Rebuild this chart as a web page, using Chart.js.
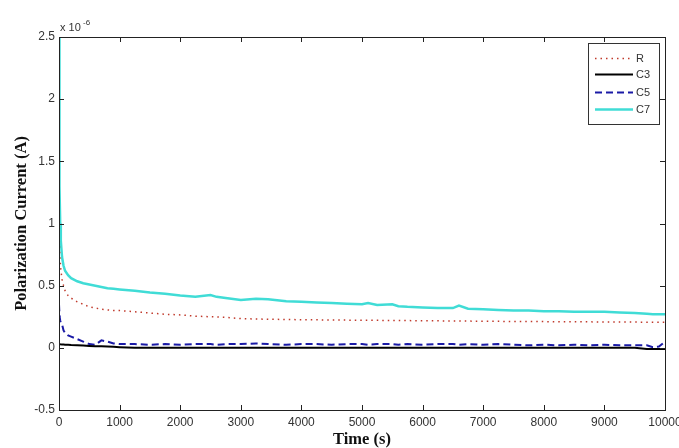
<!DOCTYPE html>
<html>
<head>
<meta charset="utf-8">
<script src="https://cdn.jsdelivr.net/npm/chart.js@4.4.1/dist/chart.umd.min.js"></script>
<style>
  body { margin: 0; background: #fff; }
</style>
</head>
<body>
<canvas id="polChart" width="679" height="448"></canvas>
<script>
// time (s)
const times = [0, 5, 10, 20, 30, 50, 75, 100, 150, 200, 300, 400, 500, 600, 700, 800, 900, 1000,
  1250, 1500, 1750, 2000, 2250, 2500, 2600, 2750, 3000, 3250, 3450, 3750, 4000, 4250, 4500, 4750,
  5000, 5100, 5250, 5500, 5600, 5750, 6000, 6250, 6500, 6600, 6750, 7000, 7250, 7500, 7750,
  8000, 8250, 8500, 8750, 9000, 9250, 9500, 9700, 9800, 9900, 10000];

// current, x 1e-6 A
const R = [0.95, 0.85, 0.78, 0.70, 0.63, 0.55, 0.50, 0.46, 0.42, 0.40, 0.37, 0.35, 0.33, 0.32, 0.31, 0.305, 0.30, 0.30,
  0.29, 0.28, 0.27, 0.265, 0.255, 0.25, 0.248, 0.245, 0.235, 0.232, 0.23, 0.228, 0.226, 0.225, 0.224, 0.223,
  0.222, 0.222, 0.221, 0.22, 0.22, 0.219, 0.218, 0.217, 0.216, 0.216, 0.215, 0.214, 0.213, 0.212, 0.212,
  0.211, 0.21, 0.21, 0.209, 0.208, 0.208, 0.207, 0.206, 0.206, 0.205, 0.205];

const C3 = [0.03, 0.03, 0.03, 0.028, 0.028, 0.027, 0.026, 0.025, 0.024, 0.022, 0.02, 0.018, 0.015, 0.013, 0.012, 0.01, 0.008, 0.005,
  0.0, 0.0, 0.0, 0.0, 0.0, 0.0, 0.0, 0.0, 0.0, 0.0, 0.0, 0.0, 0.0, 0.0, 0.0, 0.0,
  0.0, 0.0, 0.0, 0.0, 0.0, 0.0, 0.0, 0.0, 0.0, 0.0, 0.0, 0.0, 0.0, 0.0, 0.0,
  0.0, 0.0, 0.0, 0.0, 0.0, 0.0, 0.0, -0.01, -0.01, -0.01, -0.01];

const C5 = [0.35, 0.30, 0.25, 0.22, 0.20, 0.19, 0.14, 0.12, 0.10, 0.09, 0.07, 0.05, 0.03, 0.025, 0.06, 0.05, 0.035, 0.03,
  0.03, 0.025, 0.03, 0.025, 0.03, 0.03, 0.025, 0.03, 0.03, 0.035, 0.03, 0.025, 0.03, 0.03, 0.025, 0.03,
  0.03, 0.025, 0.03, 0.03, 0.025, 0.03, 0.025, 0.03, 0.03, 0.025, 0.03, 0.025, 0.03, 0.025, 0.02,
  0.025, 0.02, 0.025, 0.02, 0.025, 0.02, 0.02, 0.02, 0.005, 0.01, 0.05];

const C7 = [2.5, 1.7, 1.3, 1.0, 0.86, 0.73, 0.66, 0.62, 0.585, 0.56, 0.535, 0.52, 0.51, 0.50, 0.49, 0.48, 0.475, 0.47,
  0.46, 0.445, 0.435, 0.42, 0.41, 0.425, 0.41, 0.40, 0.385, 0.395, 0.39, 0.375, 0.37, 0.365, 0.36, 0.355,
  0.35, 0.36, 0.345, 0.35, 0.335, 0.33, 0.325, 0.32, 0.32, 0.34, 0.315, 0.31, 0.305, 0.30, 0.30,
  0.295, 0.295, 0.29, 0.29, 0.29, 0.285, 0.28, 0.275, 0.27, 0.27, 0.27];

const xTicks = [0, 1000, 2000, 3000, 4000, 5000, 6000, 7000, 8000, 9000, 10000];
const yTicks = [-0.5, 0, 0.5, 1, 1.5, 2, 2.5];

function pts(vals) {
  return times.map((t, i) => ({ x: t, y: vals[i] }));
}

// matlab style: box, inward ticks, exponent note, legend inside the axes
const matlabBox = {
  id: 'matlabBox',
  afterDraw(chart) {
    const ctx = chart.ctx;
    const a = chart.chartArea;
    const xs = chart.scales.x, ys = chart.scales.y;
    ctx.save();
    ctx.strokeStyle = '#222';
    ctx.lineWidth = 1;
    ctx.strokeRect(a.left + 0.5, a.top + 0.5, a.right - a.left, a.bottom - a.top);
    ctx.beginPath();
    xTicks.forEach(v => {
      const px = Math.round(xs.getPixelForValue(v)) + 0.5;
      ctx.moveTo(px, a.bottom); ctx.lineTo(px, a.bottom - 5);
      ctx.moveTo(px, a.top); ctx.lineTo(px, a.top + 5);
    });
    yTicks.forEach(v => {
      const py = Math.round(ys.getPixelForValue(v)) + 0.5;
      ctx.moveTo(a.left, py); ctx.lineTo(a.left + 5, py);
      ctx.moveTo(a.right, py); ctx.lineTo(a.right - 5, py);
    });
    ctx.stroke();

    ctx.fillStyle = '#333';
    ctx.font = '11px "Liberation Sans", Arial, sans-serif';
    ctx.textBaseline = 'alphabetic';
    ctx.fillText('x 10', a.left + 1, a.top - 6);
    ctx.font = '8px "Liberation Sans", Arial, sans-serif';
    ctx.fillText('-6', a.left + 24, a.top - 12);

    // legend
    const bx = 588, by = 43, bw = 71, bh = 81;
    ctx.fillStyle = '#fff';
    ctx.fillRect(bx, by, bw, bh);
    ctx.strokeStyle = '#333';
    ctx.strokeRect(bx + 0.5, by + 0.5, bw, bh);
    const rows = [58, 74, 92, 109];
    chart.data.datasets.forEach((ds, i) => {
      const y = rows[i] + 0.5;
      ctx.beginPath();
      ctx.strokeStyle = ds.borderColor;
      ctx.lineWidth = ds.borderWidth;
      ctx.setLineDash(ds.borderDash || []);
      ctx.moveTo(bx + 7, y);
      ctx.lineTo(bx + 45, y);
      ctx.stroke();
      ctx.setLineDash([]);
      ctx.fillStyle = '#333';
      ctx.font = '11px "Liberation Sans", Arial, sans-serif';
      ctx.textBaseline = 'middle';
      ctx.fillText(ds.label, bx + 48, y);
    });
    ctx.restore();
  }
};

new Chart(document.getElementById('polChart'), {
  type: 'line',
  data: {
    datasets: [
      { label: 'R', data: pts(R), borderColor: '#c0392b', borderWidth: 1.5, borderDash: [1.5, 4] },
      { label: 'C3', data: pts(C3), borderColor: '#000000', borderWidth: 2 },
      { label: 'C5', data: pts(C5), borderColor: '#1a1aa6', borderWidth: 2, borderDash: [7, 4] },
      { label: 'C7', data: pts(C7), borderColor: '#40dcd6', borderWidth: 2.5 }
    ]
  },
  options: {
    responsive: false,
    animation: false,
    layout: { padding: { left: 0, right: 14, top: 37, bottom: 0 } },
    elements: { point: { radius: 0 }, line: { tension: 0 } },
    plugins: { legend: { display: false }, tooltip: { enabled: false } },
    scales: {
      x: {
        type: 'linear', min: 0, max: 10000,
        afterFit: s => { s.height = 38; s.paddingLeft = 0; s.paddingRight = 0; },
        afterBuildTicks: s => { s.ticks = xTicks.map(v => ({ value: v })); },
        grid: { display: false, drawTicks: false },
        border: { color: '#222' },
        ticks: { color: '#333', padding: 5, maxRotation: 0, autoSkip: false,
          font: { family: '"Liberation Sans", Arial, sans-serif', size: 12 },
          callback: v => String(v) },
        title: { display: true, text: 'Time (s)', color: '#111', padding: { top: 0, bottom: 0 },
          font: { family: '"Liberation Serif", "Times New Roman", serif', size: 16.5, weight: 'bold', lineHeight: 1 } }
      },
      y: {
        min: -0.5, max: 2.5,
        afterFit: s => { s.width = 59; s.paddingTop = 0; s.paddingBottom = 0; },
        afterBuildTicks: s => { s.ticks = yTicks.map(v => ({ value: v })); },
        grid: { display: false, drawTicks: false },
        border: { color: '#222' },
        ticks: { color: '#333', padding: 4,
          font: { family: '"Liberation Sans", Arial, sans-serif', size: 12 },
          callback: v => String(v) },
        title: { display: true, text: 'Polarization Current (A)', color: '#111', padding: { top: 13, bottom: 0 },
          font: { family: '"Liberation Serif", "Times New Roman", serif', size: 16.5, weight: 'bold', lineHeight: 1 } }
      }
    }
  },
  plugins: [matlabBox]
});
</script>
</body>
</html>
